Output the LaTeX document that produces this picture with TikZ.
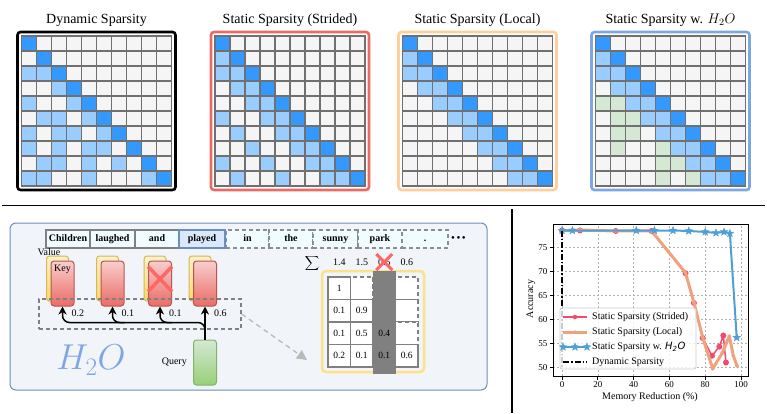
\RequirePackage{fix-cm}
\documentclass[tikz,border=0pt]{standalone}
\usepackage{fontspec}
\setmainfont{Liberation Serif}
\newfontfamily\dejavu{DejaVu Sans}
\usetikzlibrary{arrows.meta,positioning,calc,plotmarks}

\definecolor{diagblue}{HTML}{3399FF}
\definecolor{lightblue}{HTML}{99CCFF}
\definecolor{cellgray}{HTML}{F5F5F5}
\definecolor{gridgray}{HTML}{707070}
\definecolor{heavygreen}{HTML}{D5E8D4}
\definecolor{stridedframe}{HTML}{EA6B66}
\definecolor{localframe}{HTML}{FFCE9F}
\definecolor{hhblue}{HTML}{7EA6E0}
\definecolor{panelfill}{HTML}{F1F5FA}
\definecolor{panelline}{HTML}{6C8EBF}
\definecolor{wordfill}{HTML}{F0FCFF}
\definecolor{playedfill}{HTML}{DAE8FC}
\definecolor{keytop}{HTML}{F8CECC}
\definecolor{keybot}{HTML}{EA6B66}
\definecolor{keyline}{HTML}{B85450}
\definecolor{valtop}{HTML}{FFF2CC}
\definecolor{valbot}{HTML}{FFD966}
\definecolor{valline}{HTML}{D6B656}
\definecolor{qtop}{HTML}{D5E8D4}
\definecolor{qbot}{HTML}{97D077}
\definecolor{qline}{HTML}{82B366}
\definecolor{crossred}{HTML}{FF6666}
\definecolor{attyellow}{HTML}{FFE08A}
\definecolor{colgray}{HTML}{808080}
\definecolor{stridedcol}{HTML}{F2496E}
\definecolor{localcol}{HTML}{EFA27E}
\definecolor{hocol}{HTML}{4F9FD5}

% filled five-point star, like the matplotlib one
\pgfdeclareplotmark{fstar}{%
  \pgfpathmoveto{\pgfqpointpolar{90}{1.3\pgfplotmarksize}}%
  \pgfpathlineto{\pgfqpointpolar{126}{0.55\pgfplotmarksize}}%
  \pgfpathlineto{\pgfqpointpolar{162}{1.3\pgfplotmarksize}}%
  \pgfpathlineto{\pgfqpointpolar{198}{0.55\pgfplotmarksize}}%
  \pgfpathlineto{\pgfqpointpolar{234}{1.3\pgfplotmarksize}}%
  \pgfpathlineto{\pgfqpointpolar{270}{0.55\pgfplotmarksize}}%
  \pgfpathlineto{\pgfqpointpolar{306}{1.3\pgfplotmarksize}}%
  \pgfpathlineto{\pgfqpointpolar{342}{0.55\pgfplotmarksize}}%
  \pgfpathlineto{\pgfqpointpolar{18}{1.3\pgfplotmarksize}}%
  \pgfpathlineto{\pgfqpointpolar{54}{0.55\pgfplotmarksize}}%
  \pgfpathclose\pgfusepathqfillstroke}

\tikzset{
  cell/.style={draw=gridgray, line width=1.3pt},
  frame/.style={line width=2.6pt, rounded corners=3pt},
  title/.style={font=\fontsize{14}{16}\selectfont},
  word/.style={draw=colgray, line width=1.2pt, fill=wordfill, outer sep=0pt,
    minimum height=18pt, text height=7pt, text depth=2pt, font=\fontsize{10}{12}\selectfont\bfseries},
  dashword/.style={word, dash pattern=on 4pt off 3pt, draw=colgray!90},
  keycard/.style={draw=keyline, line width=1pt, rounded corners=3pt, top color=keytop,
    bottom color=keybot, minimum width=23pt, minimum height=45pt},
  valuecard/.style={draw=valline, line width=1pt, rounded corners=3pt, top color=valtop,
    bottom color=valbot, minimum width=22pt, minimum height=45pt},
  flow/.style={-{Stealth[length=8pt,width=8pt,inset=2.5pt]}, line width=1.5pt},
  cross/.style={crossred, line width=3.5pt},
  acell/.style={draw=colgray, line width=1.2pt, fill=white},
  plotgrid/.style={draw=gray!60, line width=0.5pt, dash pattern=on 2pt off 2pt},
  tick/.style={font=\fontsize{9}{10}\selectfont}
}

% #1 centre x, #2 frame colour, #3 light cells (row/col), #4 title, #5 name
\newcommand{\sparsemat}[5]{%
  \foreach \r in {0,...,9}
    \foreach \c in {0,...,9}
      \filldraw[cell, fill=cellgray] (#1-75+15*\c, 36+15*\r) rectangle ++(15,15);
  \foreach \r/\c in {#3}
    \filldraw[cell, fill=lightblue] (#1-75+15*\c, 36+15*\r) rectangle ++(15,15);
  \foreach \r in {0,...,9}
    \filldraw[cell, fill=diagblue] (#1-75+15*\r, 36+15*\r) rectangle ++(15,15);
  \draw[frame, #2] (#1-79, 32) rectangle (#1+79, 190);
  \node[title] (t#5) at (#1, 20) {#4};
}

\begin{document}
\begin{tikzpicture}[x=1pt, y=-1pt,
  every node/.style={font=\fontsize{10}{12}\selectfont, inner sep=0pt}]
\useasboundingbox (0,0) rectangle (767,413);

% top row: attention patterns
\sparsemat{96.5}{black}{2/0,2/1,3/2,4/0,4/3,5/1,5/2,5/4,6/0,6/2,6/3,6/5,7/0,7/2,7/4,7/5,8/1,8/2,8/4,8/6,9/0,9/1,9/4,9/8}{Dynamic Sparsity}{dyn}
\sparsemat{290}{stridedframe}{1/0,2/0,2/1,3/1,3/2,4/2,4/3,5/0,5/3,5/4,6/1,6/4,6/5,7/2,7/5,7/6,8/0,8/3,8/6,8/7,9/1,9/4,9/7,9/8}{Static Sparsity (Strided)}{str}
\sparsemat{477.5}{localframe}{1/0,2/0,2/1,3/1,3/2,4/2,4/3,5/3,5/4,6/4,6/5,7/5,7/6,8/6,8/7,9/7,9/8}{Static Sparsity (Local)}{loc}
\sparsemat{670.5}{hhblue}{1/0,2/0,2/1,3/1,3/2,4/2,4/3,5/3,5/4,6/4,6/5,7/5,7/6,8/6,8/7,9/7,9/8}{Static Sparsity w. $H_2O$}{hho}
\foreach \r/\c in {4/0,4/1,5/1,5/2,6/1,6/2,7/1,7/4,8/4,8/5,9/4,9/6}
  \filldraw[cell, fill=heavygreen] (595.5+15*\c, 36+15*\r) rectangle ++(15,15);

% separators
\draw[line width=1pt] (2,205) -- (765,205);
\draw[line width=1.2pt] (512,209) -- (512,413);

% bottom left: H2O panel
\node[draw=panelline, fill=panelfill, line width=1pt, rounded corners=6pt,
  minimum width=477pt, minimum height=167pt] (panel) at (248.5,306.5) {};

\node[word, minimum width=44pt] (w1) at (68,239) {Children};
\node[word, minimum width=45pt, right=0pt of w1] (w2) {laughed};
\node[word, minimum width=44pt, right=0pt of w2] (w3) {and};
\node[dashword, minimum width=43pt, right=47pt of w3] (w5) {in};
\node[word, minimum width=46pt, right=0pt of w3, fill=playedfill, draw=panelline, line width=1.5pt] (w4) {played};
\node[dashword, minimum width=44pt, right=0pt of w5] (w6) {the};
\node[dashword, minimum width=45pt, right=0pt of w6] (w7) {sunny};
\node[dashword, minimum width=44pt, right=0pt of w7] (w8) {park};
\node[dashword, minimum width=46pt, right=0pt of w8] (w9) {.};
\node[right=3pt of w9, font=\fontsize{11}{12}\selectfont] (dots) {\textbullet\kern1.5pt\textbullet\kern1.5pt\textbullet};

\foreach \i/\kx in {1/62.5, 2/112.5, 3/160, 4/205} {
  \node[valuecard] (v\i) at (\kx-5, 278.5) {};
  \node[keycard] (k\i) at (\kx, 283.5) {};
}
\node (vlab) at (49,252) {Value};
\node[below=4pt of k1.north] (klab) {Key};
\draw[cross] ($(k3)+(-12,-17)$) -- ($(k3)+(12,8)$);
\draw[cross] ($(k3)+(-12,8)$) -- ($(k3)+(12,-17)$);

\node[draw=gray, line width=1.2pt, dash pattern=on 4pt off 3pt, minimum width=202pt,
  minimum height=30pt] (sel) at (140,314) {};

\node[draw=qline, line width=1pt, rounded corners=3pt, top color=qtop, bottom color=qbot,
  minimum width=23pt, minimum height=45pt] (q) at (205,362.5) {};
\node[left=6pt of q] (qlab) {Query};

\draw[flow] (q.north) -- (k4.south);
\draw[flow, rounded corners=7pt] ([yshift=12pt]q.north) |- ([yshift=-16pt]k1.south) -- (k1.south);
\draw[flow, rounded corners=7pt] ([xshift=12pt,yshift=-16pt]k2.south) -| (k2.south);
\draw[flow, rounded corners=7pt] ([xshift=12pt,yshift=-16pt]k3.south) -| (k3.south);
\foreach \i/\w in {1/0.2, 2/0.1, 3/0.1, 4/0.6}
  \node[anchor=west] (wt\i) at ([xshift=9pt,yshift=-7pt]k\i.south) {\w};

\node[text=hhblue, font=\fontsize{36}{36}\selectfont] (hho) at (91,360) {$H_2O$};

% accumulated attention
\node[draw=attyellow, line width=2.5pt, rounded corners=4pt, minimum width=102pt,
  minimum height=101pt] (att) at (373,321.5) {};
\coordinate (arrowend) at (307,360);
\draw[gray!55, line width=1.3pt, dash pattern=on 5pt off 4pt,
  -{Triangle[length=10pt,width=10pt]}] (sel.east) -- (arrowend);
\foreach \r/\c in {0/1,0/2,0/3,1/2,1/3,2/3}
  \draw[acell, dash pattern=on 4pt off 3pt] (328+22.5*\c, 277+22.5*\r) rectangle ++(22.5,22.5);
\foreach \r/\c in {0/0,1/0,1/1,2/0,2/1,2/2,3/0,3/1,3/2,3/3}
  \draw[acell] (328+22.5*\c, 277+22.5*\r) rectangle ++(22.5,22.5);
\fill[colgray] (373,271) rectangle (395.5,374);
\foreach \r/\c/\v in {0/0/1, 1/0/0.1, 1/1/0.9, 2/0/0.1, 2/1/0.5, 2/2/0.4, 3/0/0.2, 3/1/0.1, 3/2/0.1, 3/3/0.6}
  \node[font=\fontsize{9.5}{10}\selectfont] (n\r\c) at (339.25+22.5*\c, 288.25+22.5*\r) {\v};

\node (sig) at (312,263) {$\displaystyle\sum$};
\foreach \c/\v in {0/1.4, 1/1.5, 2/0.5, 3/0.6}
  \node (s\c) at (339.25+22.5*\c, 262) {\v};
\draw[cross, line width=3pt] ($(s2)+(-8,-8)$) -- ($(s2)+(8,8)$);
\draw[cross, line width=3pt] ($(s2)+(-8,8)$) -- ($(s2)+(8,-8)$);

% bottom right: accuracy vs memory reduction
\begin{scope}[shift={(562,607.3)}, x=1.79pt, y=4.8pt]
  \foreach \gx in {0,20,...,100} {
    \draw[plotgrid] (\gx,48.19) -- (\gx,79.85);
    \draw[line width=0.8pt] (\gx,48.19) -- (\gx,47.46);
    \node[tick, below=2pt] (xt\gx) at (\gx,47.46) {\gx};
  }
  \foreach \gy in {50,55,...,75} {
    \draw[plotgrid] (-5,\gy) -- (103.9,\gy);
    \draw[line width=0.8pt] (-5,\gy) -- (-6.96,\gy);
    \node[tick, left=2pt] (yt\gy) at (-6.96,\gy) {\gy};
  }
  \draw[stridedcol, line width=1.5pt] plot[mark=*, mark size=2.2pt, mark options={fill=stridedcol}]
    coordinates {(0,78.5) (10,78.5) (30,78.4) (50,78.4) (69,69.6) (73.7,63.4) (78.6,56.1)
      (83.8,52.4) (87.9,54.3) (90.1,56.6) (91.6,51.0)};
  \draw[localcol, line width=3pt, line join=round] plot[mark=*, mark size=1.5pt, mark options={fill=localcol, line width=1pt}]
    coordinates {(0,78.5) (10,78.6) (30,78.4) (50,78.4) (69,69.7) (73.7,63.5) (78.6,56.2)
      (84.2,49.7) (89.4,52.9) (93.5,56.5) (95.7,52.4) (97.8,50.3)};
  \draw[hocol, line width=2pt] plot[mark=fstar, mark size=3pt, mark options={fill=hocol, line width=0.5pt}]
    coordinates {(0,78.5) (5.8,78.5) (41.5,78.5) (51.6,78.5) (62,78.5) (70.8,78.4) (80,78.2)
      (86,78) (90.5,78.2) (93.8,77.9) (97.6,56.2)};
  \draw[black, line width=2.5pt, dash pattern=on 6pt off 2pt on 1.5pt off 2pt] (0,78.5) -- (0,50);
  \draw[line width=0.8pt] (-5,48.19) rectangle (103.9,79.85);
\end{scope}

\node[draw=gray!40, fill=white, fill opacity=0.8, text opacity=1, rounded corners=2pt,
  line width=0.8pt, minimum width=136pt, minimum height=61pt] (leg) at (628,338.5) {};
\draw[stridedcol, line width=1.5pt] (563,317) -- (587,317);
\fill[stridedcol] (575,317) circle (2.2pt);
\draw[localcol, line width=3pt] (563,332) -- (587,332);
\fill[localcol] (575,332) circle (1.8pt);
\draw[hocol, line width=2pt] plot[mark=fstar, mark size=3pt, mark options={fill=hocol, line width=0.5pt}]
  coordinates {(563,347) (575,347) (587,347)};
\draw[black, line width=2.5pt, dash pattern=on 6pt off 2pt on 1.5pt off 2pt] (563,362) -- (587,362);
\node[anchor=west] (l1) at (592,317) {Static Sparsity (Strided)};
\node[anchor=west] (l2) at (592,332) {Static Sparsity (Local)};
\node[anchor=west] (l3) at (592,347) {Static Sparsity w. {\dejavu\itshape H\textsubscript{2}O}};
\node[anchor=west] (l4) at (592,362) {Dynamic Sparsity};

\node (xlab) at (650,397) {Memory Reduction (\%)};
\node[rotate=90] (ylab) at (531,299) {Accuracy};
\end{tikzpicture}
\end{document}
